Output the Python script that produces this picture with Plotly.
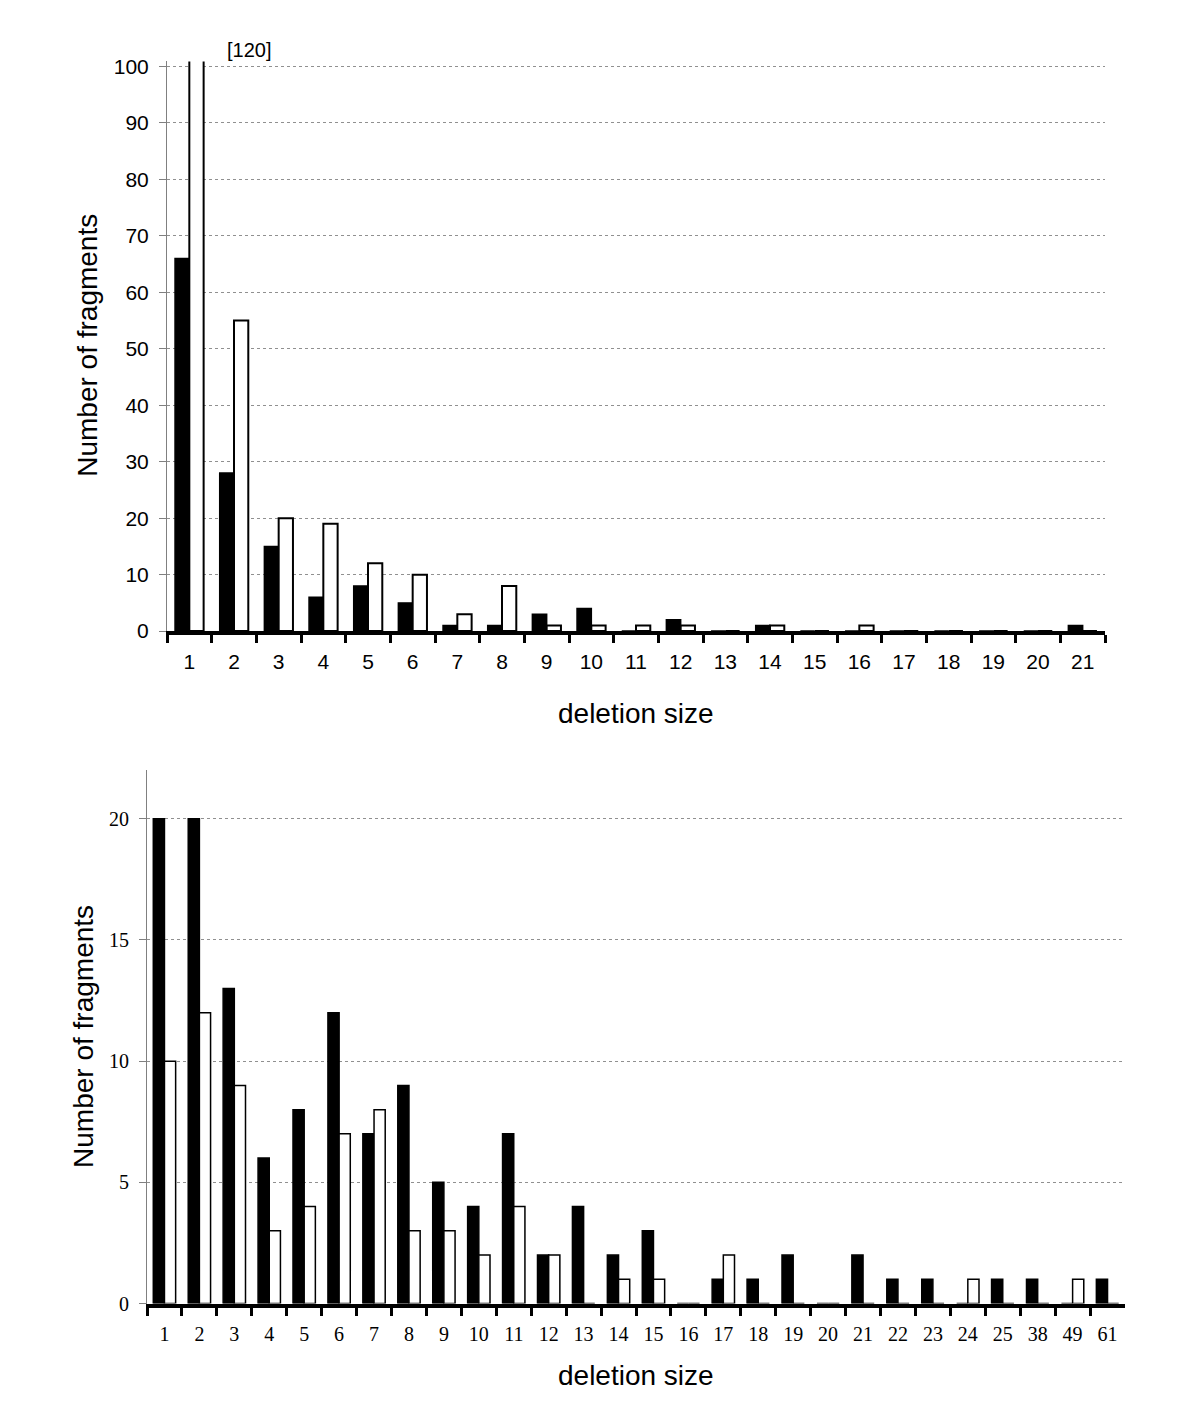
import plotly.graph_objects as go
from plotly.subplots import make_subplots

# ---- data: top panel ----
TOP_SIZES = [str(i) for i in range(1, 22)]
TOP_BLACK = [66, 28, 15, 6, 8, 5, 1, 1, 3, 4, 0, 2, 0, 1, 0, 0, 0, 0, 0, 0, 1]
TOP_WHITE = [120, 55, 20, 19, 12, 10, 3, 8, 1, 1, 1, 1, 0, 1, 0, 1, 0, 0, 0, 0, 0]
TOP_YTICKS = list(range(0, 101, 10))

# ---- data: bottom panel ----
BOT_SIZES = [str(i) for i in range(1, 26)] + ["38", "49", "61"]
BOT_BLACK = [20, 20, 13, 6, 8, 12, 7, 9, 5, 4, 7, 2, 4, 2, 3, 0, 1, 1, 2, 0, 2, 1, 1, 0, 1, 1, 0, 1]
BOT_WHITE = [10, 12, 9, 3, 4, 7, 8, 3, 3, 2, 4, 2, 0, 1, 1, 0, 2, 0, 0, 0, 0, 0, 0, 1, 0, 0, 1, 0]
BOT_YTICKS = [0, 5, 10, 15, 20]

W, H = 1200, 1425
OFF = 8  # page body margin
SANS = "Liberation Sans, Arial, sans-serif"
SERIF = "Liberation Serif, Times New Roman, serif"


def px_x(x):
    return (x - OFF) / W


def px_y(y):
    return 1 - (y - OFF) / H


fig = make_subplots(rows=2, cols=1)

fig.add_trace(go.Bar(x=TOP_SIZES, y=TOP_BLACK, marker=dict(color="black", line=dict(color="black", width=1.5))), row=1, col=1)
fig.add_trace(go.Bar(x=TOP_SIZES, y=TOP_WHITE, marker=dict(color="white", line=dict(color="black", width=2))), row=1, col=1)
fig.add_trace(go.Bar(x=BOT_SIZES, y=BOT_BLACK, marker=dict(color="black", line=dict(color="black", width=1.5))), row=2, col=1)
fig.add_trace(go.Bar(x=BOT_SIZES, y=BOT_WHITE, marker=dict(color="white", line=dict(color="black", width=1.5))), row=2, col=1)

xcommon = dict(
    type="category", tickson="boundaries", ticks="outside", ticklen=8, tickwidth=3,
    tickcolor="black", showline=True, linecolor="black", linewidth=4,
    showgrid=False, zeroline=False, ticklabelstandoff=9,
)
ycommon = dict(
    showline=True, linecolor="#808080", linewidth=1, ticks="outside", ticklen=7,
    tickcolor="#808080", showgrid=True, gridcolor="#909090", griddash="dot",
    gridwidth=1, zeroline=False, ticklabelstandoff=6,
)

# top panel: 100 sits at y=60px, 0 at y=632px; range goes a bit past 100
fig.update_layout(
    xaxis=dict(**xcommon, domain=[px_x(167), px_x(1105)],
               tickfont=dict(family=SANS, size=21, color="black")),
    yaxis=dict(**ycommon, domain=[px_y(632), px_y(55)], range=[0, 100.9],
               tickvals=TOP_YTICKS, tickfont=dict(family=SANS, size=21, color="black")),
    xaxis2=dict(**xcommon, domain=[px_x(147), px_x(1125)],
                tickfont=dict(family=SERIF, size=20, color="black")),
    yaxis2=dict(**ycommon, domain=[px_y(1313), px_y(773)], range=[0, 22],
                tickvals=BOT_YTICKS, tickfont=dict(family=SERIF, size=20, color="black")),
    barmode="group", bargap=0.36, bargroupgap=0,
    showlegend=False, width=W, height=H,
    margin=dict(l=0, r=0, t=0, b=0),
    plot_bgcolor="white", paper_bgcolor="white",
)

title_font = dict(family=SANS, size=28, color="black")
annotations = [
    dict(text="[120]", x="1", y=100.9, xref="x", yref="y", xshift=15, yshift=-2,
         xanchor="center", yanchor="bottom",
         showarrow=False, font=dict(family=SANS, size=20, color="black")),
    dict(text="Number of fragments", x=px_x(88), y=px_y(343), xref="paper", yref="paper",
         xanchor="center", yanchor="middle", textangle=-90, showarrow=False, font=title_font),
    dict(text="deletion size", x=px_x(636), y=px_y(715), xref="paper", yref="paper",
         xanchor="center", yanchor="middle", showarrow=False, font=title_font),
    dict(text="Number of fragments", x=px_x(84), y=px_y(1043), xref="paper", yref="paper",
         xanchor="center", yanchor="middle", textangle=-90, showarrow=False, font=title_font),
    dict(text="deletion size", x=px_x(636), y=px_y(1386), xref="paper", yref="paper",
         xanchor="center", yanchor="middle", showarrow=False, font=title_font),
]
fig.update_layout(annotations=annotations)

fig.write_html("out.html")
